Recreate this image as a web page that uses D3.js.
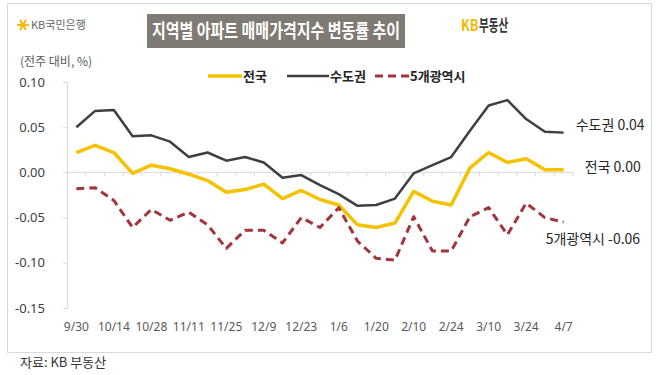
<!DOCTYPE html>
<html>
<head>
<meta charset="utf-8">
<script src="https://cdn.jsdelivr.net/npm/d3@7"></script>
<style>
  body { margin: 0; background: #fff; }
  svg { display: block; font-family: "Noto Sans CJK KR", "Noto Sans", sans-serif; }
</style>
</head>
<body>
<svg id="chart" width="658" height="375"></svg>
<script>
// weekly dates (Lunar New Year week skipped)
const dates = ["9/30","10/7","10/14","10/21","10/28","11/4","11/11","11/18","11/25","12/2","12/9","12/16","12/23","12/30",
  "1/6","1/13","1/20","2/3","2/10","2/17","2/24","3/3","3/10","3/17","3/24","3/31","4/7"];
const tickLabels = ["9/30","10/14","10/28","11/11","11/25","12/9","12/23","1/6","1/20","2/10","2/24","3/10","3/24","4/7"];
const yTicks = [0.10, 0.05, 0.00, -0.05, -0.10, -0.15];

const national = [0.022, 0.030, 0.022, -0.001, 0.008, 0.004, -0.002, -0.009, -0.022, -0.019, -0.013, -0.029, -0.020, -0.030,
  -0.036, -0.058, -0.061, -0.056, -0.021, -0.032, -0.036, 0.005, 0.022, 0.011, 0.015, 0.003, 0.003];
const capital = [0.050, 0.068, 0.069, 0.040, 0.041, 0.034, 0.017, 0.022, 0.013, 0.017, 0.011, -0.006, -0.003, -0.014,
  -0.024, -0.037, -0.036, -0.029, -0.001, 0.008, 0.017, 0.046, 0.074, 0.080, 0.059, 0.045, 0.044];
const metro = [-0.018, -0.017, -0.031, -0.061, -0.041, -0.053, -0.044, -0.058, -0.084, -0.064, -0.064, -0.078, -0.050, -0.061,
  -0.039, -0.076, -0.095, -0.097, -0.049, -0.087, -0.087, -0.049, -0.039, -0.069, -0.034, -0.050, -0.055];

const series = [
  { name: "전국", values: national, color: "#f5c200", width: 3.5, dash: null, end: "전국 0.00", dx: 21, dy: -3 },
  { name: "수도권", values: capital, color: "#3f3f3f", width: 2.5, dash: null, end: "수도권 0.04", dx: 12, dy: -8 },
  { name: "5개광역시", values: metro, color: "#a3343c", width: 3, dash: "8,5", end: "5개광역시 -0.06", dx: -18, dy: 17 }
];

const svg = d3.select("#chart");

// frame
svg.append("rect").attr("x", 7.5).attr("y", 3.5).attr("width", 644).attr("height", 349)
  .attr("fill", "#fff").attr("stroke", "#d9d9d9");

// header (condensed like the original font)
svg.append("rect").attr("x", 147).attr("y", 14).attr("width", 258).attr("height", 34).attr("fill", "#7f7a73");
const title = svg.append("text").attr("transform", "translate(152,38) scale(0.74,1)")
  .attr("fill", "#fff").attr("font-size", 19).attr("font-weight", "bold")
  .text("지역별 아파트 매매가격지수 변동률 추이");
const tw = title.node().getBBox().width;
title.attr("transform", `translate(152,38) scale(${248 / tw},1)`);

// KB bank logo
const star = svg.append("g").attr("transform", "translate(23,25)").attr("stroke", "#f5b800").attr("stroke-width", 2).attr("stroke-linecap", "round");
[0, 60, 120].forEach(a => {
  const r = a * Math.PI / 180;
  star.append("line").attr("x1", -5 * Math.cos(r)).attr("y1", -5 * Math.sin(r))
    .attr("x2", 5 * Math.cos(r)).attr("y2", 5 * Math.sin(r));
});
svg.append("text").attr("x", 31).attr("y", 29).attr("font-size", 11).attr("fill", "#666").text("KB국민은행");

// KB real estate logo
svg.append("text").attr("transform", "translate(461,31) scale(0.8,1)").attr("font-size", 16).attr("font-weight", "bold")
  .attr("fill", "#f5b800").text("KB");
svg.append("text").attr("transform", "translate(479,31) scale(0.66,1)").attr("font-size", 16).attr("font-weight", "bold")
  .attr("fill", "#333").text("부동산");

// scales
const x = d3.scaleBand().domain(dates).range([67, 573]).padding(0);
const y = d3.scaleLinear().domain([-0.15, 0.10]).range([308, 82]);
const cx = d => x(d) + x.bandwidth() / 2;

// y axis
const yAxis = svg.append("g").attr("transform", "translate(67,0)")
  .call(d3.axisLeft(y).tickValues(yTicks).tickSize(4).tickPadding(18).tickFormat(d3.format(".2f")));
yAxis.select(".domain").attr("stroke", "#d9d9d9");
yAxis.selectAll(".tick line").attr("stroke", "#d9d9d9");
yAxis.selectAll(".tick text").attr("fill", "#404040").attr("font-size", 13)
  .attr("font-family", "Noto Sans, sans-serif").text(d => d3.format(".2f")(d).replace("−", "-"));

// zero line with boundary ticks
svg.append("line").attr("x1", 67).attr("x2", 573).attr("y1", y(0)).attr("y2", y(0)).attr("stroke", "#d9d9d9");
svg.append("g").selectAll("line").data(dates.slice(1).concat(["end"])).join("line")
  .attr("x1", d => d === "end" ? 573 : x(d)).attr("x2", d => d === "end" ? 573 : x(d))
  .attr("y1", y(0)).attr("y2", y(0) + 4).attr("stroke", "#d9d9d9");

// x labels
const xAxis = svg.append("g").attr("transform", "translate(0,318)")
  .call(d3.axisBottom(x).tickValues(tickLabels).tickSize(0).tickPadding(4));
xAxis.select(".domain").remove();
xAxis.selectAll(".tick text").attr("fill", "#595959").attr("font-size", 12)
  .attr("font-family", "Noto Sans, sans-serif");

// y unit label
svg.append("text").attr("x", 20).attr("y", 66).attr("font-size", 12).attr("fill", "#595959").text("(전주 대비, %)");

// lines
const line = vals => d3.line().x((d, i) => cx(dates[i])).y(d => y(d))(vals);
series.forEach(s => {
  svg.append("path").attr("d", line(s.values)).attr("fill", "none")
    .attr("stroke", s.color).attr("stroke-width", s.width)
    .attr("stroke-dasharray", s.dash).attr("stroke-linejoin", "round");
  const last = s.values.length - 1;
  svg.append("text").attr("x", cx(dates[last]) + s.dx).attr("y", y(s.values[last]) + s.dy + 5)
    .attr("font-size", 14).attr("fill", "#262626").text(s.end);
});

// legend
const legendX = [208, 287, 375];
const legendLen = [34, 42, 34];
series.forEach((s, i) => {
  const g = svg.append("g").attr("transform", `translate(${legendX[i]},76)`);
  g.append("line").attr("x1", 0).attr("x2", legendLen[i]).attr("stroke", s.color)
    .attr("stroke-width", s.width).attr("stroke-dasharray", s.dash);
  g.append("text").attr("x", legendLen[i] + 1).attr("y", 5).attr("font-size", 13)
    .attr("font-weight", "bold").attr("fill", "#262626").text(s.name);
});

// source
svg.append("text").attr("x", 20).attr("y", 367).attr("font-size", 13).attr("fill", "#333").text("자료: KB 부동산");
</script>
</body>
</html>
